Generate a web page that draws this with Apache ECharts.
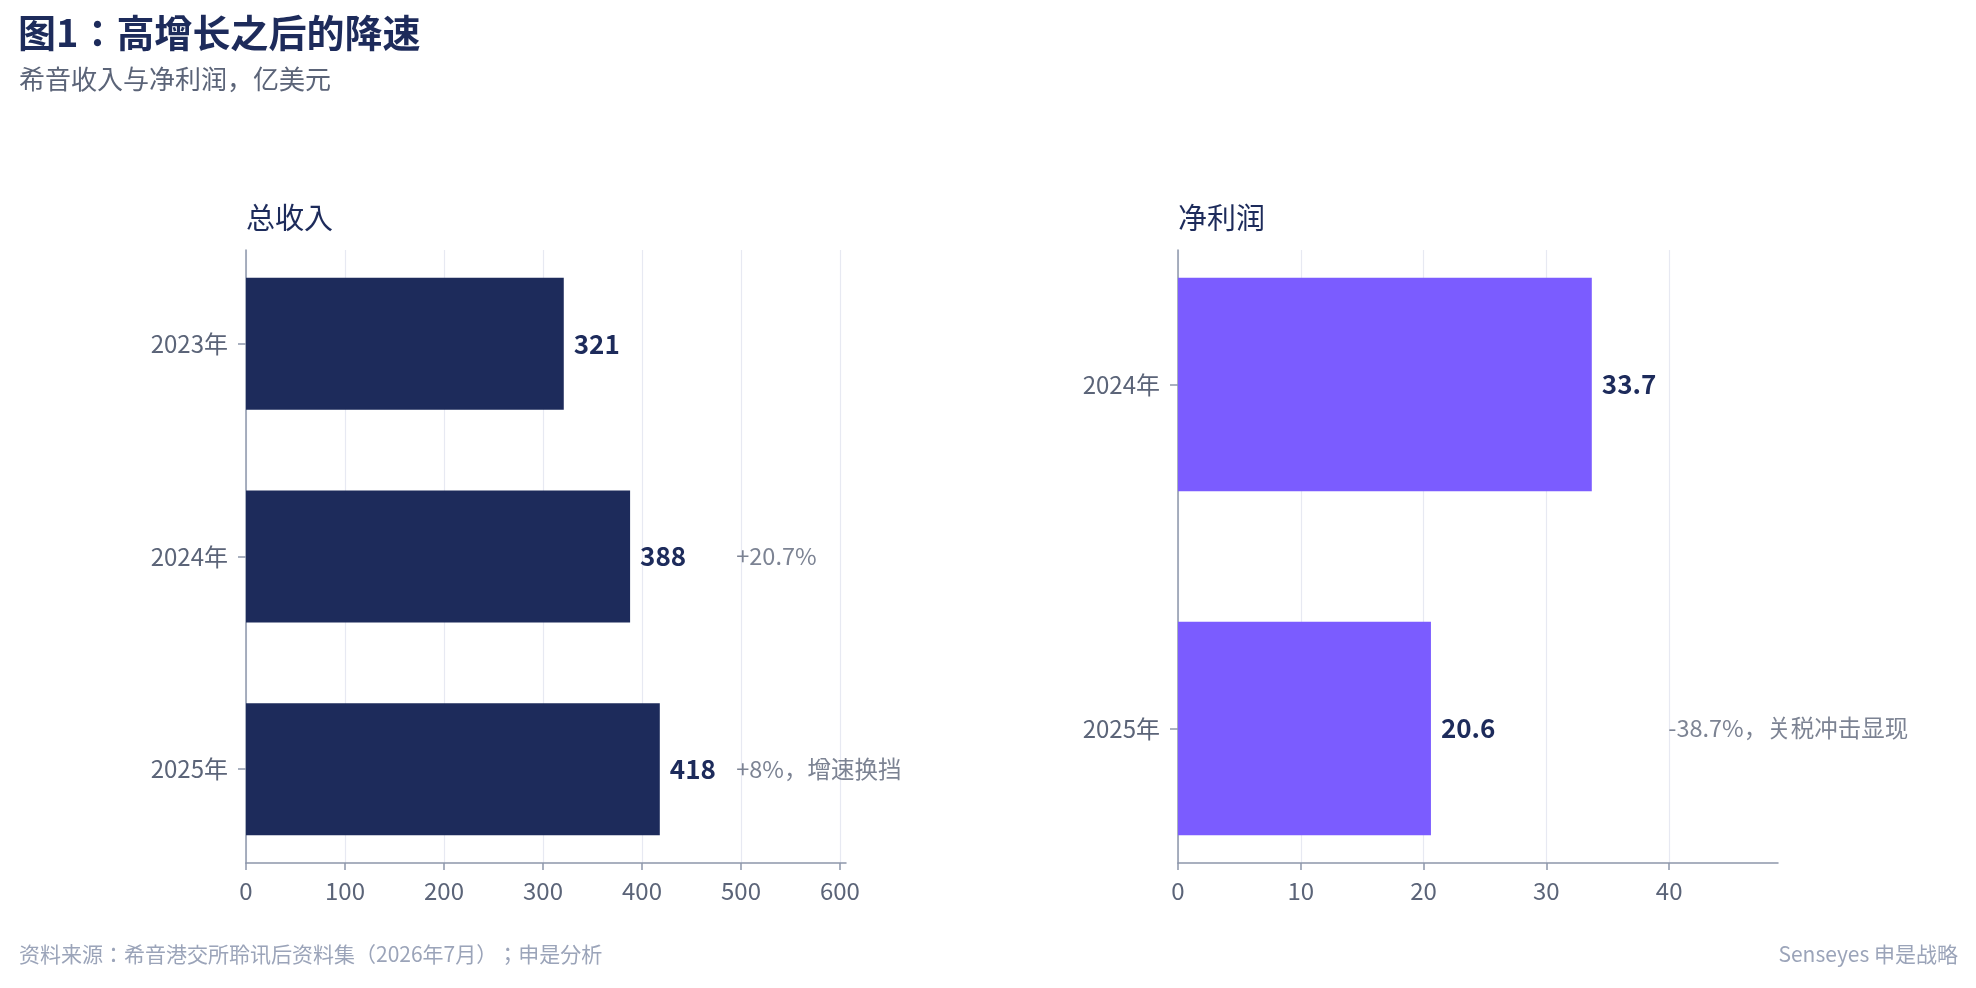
<!DOCTYPE html>
<html>
<head>
<meta charset="utf-8">
<style>
  html, body { margin: 0; padding: 0; background: #ffffff; }
  #chart { width: 1976px; height: 988px; }
</style>
<script src="https://cdn.jsdelivr.net/npm/echarts@6/dist/echarts.min.js"></script>
</head>
<body>
<div id="chart"></div>
<script>
// données (亿美元)
const revenueYears = ['2023年', '2024年', '2025年'];
const revenueValues = [321, 388, 418];
const revenueNotes = ['', '+20.7%', '+8%，增速换挡'];
const revenueTicks = [0, 100, 200, 300, 400, 500, 600];

const profitYears = ['2024年', '2025年'];
const profitValues = [33.7, 20.6];
const profitNotes = ['', '-38.7%，关税冲击显现'];
const profitTicks = [0, 10, 20, 30, 40];

const FONT = '"Noto Sans CJK JP", "Noto Sans CJK SC", "Noto Sans", sans-serif';
const NAVY = '#1d2b5b';
const PURPLE = '#7b5cff';
const GREY = '#5b6478';
const AXIS = '#8d96aa';
const GRID = '#e7e9f2';
const FOOT = '#9ba4b9';

// zone des axes (px)
const AX_TOP = 250, AX_BOTTOM = 863, H = 988;
const BAR_H = 0.62; // hauteur relative des barres

// bande des catégories, à la manière des marges matplotlib
function bandBox(n) {
    const span = AX_BOTTOM - AX_TOP;
    const range = (n - 1 + BAR_H) * 1.1;
    const step = span / range;
    const gap = (BAR_H / 2 + 0.05 * (n - 1 + BAR_H)) * step;
    const top = AX_TOP + gap - step / 2;
    return { top: top, bottom: H - (top + n * step) };
}

const leftBox = bandBox(revenueYears.length);
const rightBox = bandBox(profitYears.length);

function noteData(values, notes) {
    const anchor = Math.max(...values) * 1.18;
    const out = [];
    notes.forEach((txt, i) => {
        if (txt) out.push({ value: [anchor, i], note: txt });
    });
    return out;
}

function valueAxis(gridIndex, values, ticks, visible) {
    return {
        type: 'value',
        gridIndex: gridIndex,
        min: 0,
        max: Math.max(...values) * 1.45,
        show: visible,
        axisLine: { show: true, lineStyle: { color: AXIS, width: 1.5 } },
        axisTick: { show: true, customValues: ticks, length: 7, lineStyle: { color: AXIS, width: 1.5 } },
        axisLabel: { customValues: ticks, color: GREY, fontSize: 24, fontFamily: FONT, margin: 16 },
        splitLine: { show: true, lineStyle: { color: GRID, width: 1.2 } }
    };
}

function frameAxis(gridIndex) {
    return {
        type: 'value',
        gridIndex: gridIndex,
        min: 0, max: 1,
        axisLine: { show: true, lineStyle: { color: AXIS, width: 1.5 } },
        axisTick: { show: false },
        axisLabel: { show: false },
        splitLine: { show: false }
    };
}

function catAxis(gridIndex, cats) {
    return {
        type: 'category',
        gridIndex: gridIndex,
        data: cats,
        inverse: true,
        axisLine: { show: false },
        axisTick: { show: true, alignWithLabel: true, length: 8, lineStyle: { color: AXIS, width: 1.5 } },
        axisLabel: { color: GREY, fontSize: 24, fontFamily: FONT, margin: 18 },
        splitLine: { show: false }
    };
}

function barSeries(axisIndex, values, color) {
    return {
        type: 'bar',
        xAxisIndex: axisIndex,
        yAxisIndex: axisIndex,
        data: values,
        barWidth: (BAR_H * 100) + '%',
        itemStyle: { color: color },
        label: {
            show: true,
            position: 'right',
            distance: 10,
            color: NAVY,
            fontSize: 26,
            fontWeight: 'bold',
            fontFamily: FONT
        },
        silent: true
    };
}

function noteSeries(axisIndex, values, notes) {
    return {
        type: 'scatter',
        xAxisIndex: axisIndex,
        yAxisIndex: axisIndex,
        symbolSize: 0,
        data: noteData(values, notes),
        label: {
            show: true,
            position: 'right',
            distance: 2,
            formatter: p => p.data.note,
            color: GREY,
            fontSize: 23.5,
            fontFamily: FONT
        },
        silent: true
    };
}

const chart = echarts.init(document.getElementById('chart'));

const option = {
    backgroundColor: '#ffffff',
    animation: false,
    textStyle: { fontFamily: FONT },
    title: [
        { text: '图1：高增长之后的降速', left: 18, top: 14, padding: 0,
          textStyle: { color: NAVY, fontSize: 38, fontWeight: 'bold', fontFamily: FONT } },
        { text: '希音收入与净利润，亿美元', left: 19, top: 66, padding: 0,
          textStyle: { color: GREY, fontSize: 26, fontWeight: 'normal', fontFamily: FONT } },
        { text: '总收入', left: 246, top: 203, padding: 0,
          textStyle: { color: NAVY, fontSize: 29, fontWeight: 'normal', fontFamily: FONT } },
        { text: '净利润', left: 1178, top: 203, padding: 0,
          textStyle: { color: NAVY, fontSize: 29, fontWeight: 'normal', fontFamily: FONT } },
        { text: '资料来源：希音港交所聆讯后资料集（2026年7月）；申是分析', left: 19, top: 944, padding: 0,
          textStyle: { color: FOOT, fontSize: 21, fontWeight: 'normal', fontFamily: FONT } },
        { text: 'Senseyes 申是战略', right: 18, top: 944, padding: 0,
          textStyle: { color: FOOT, fontSize: 21, fontWeight: 'normal', fontFamily: FONT } }
    ],
    grid: [
        { left: 246, width: 600, top: AX_TOP, bottom: H - AX_BOTTOM },
        { left: 246, width: 600, top: leftBox.top, bottom: leftBox.bottom },
        { left: 1178, width: 600, top: AX_TOP, bottom: H - AX_BOTTOM },
        { left: 1178, width: 600, top: rightBox.top, bottom: rightBox.bottom }
    ],
    xAxis: [
        valueAxis(0, revenueValues, revenueTicks, true),
        valueAxis(1, revenueValues, revenueTicks, false),
        valueAxis(2, profitValues, profitTicks, true),
        valueAxis(3, profitValues, profitTicks, false)
    ],
    yAxis: [
        frameAxis(0),
        catAxis(1, revenueYears),
        frameAxis(2),
        catAxis(3, profitYears)
    ],
    series: [
        // axes visibles : séries vides pour garder le cadre
        { type: 'bar', xAxisIndex: 0, yAxisIndex: 0, data: [], silent: true },
        barSeries(1, revenueValues, NAVY),
        noteSeries(1, revenueValues, revenueNotes),
        { type: 'bar', xAxisIndex: 2, yAxisIndex: 2, data: [], silent: true },
        barSeries(3, profitValues, PURPLE),
        noteSeries(3, profitValues, profitNotes)
    ]
};

chart.setOption(option);
</script>
</body>
</html>
